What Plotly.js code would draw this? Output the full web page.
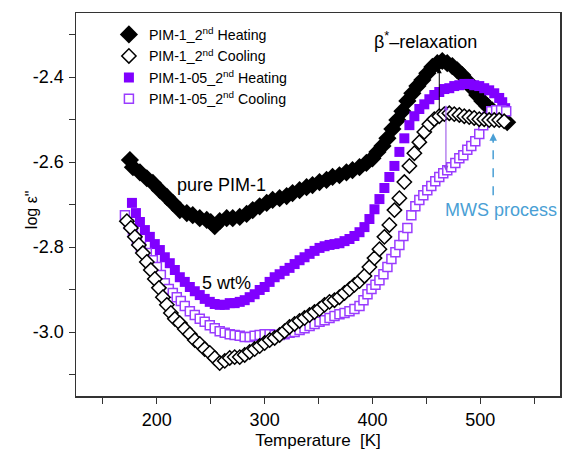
<!DOCTYPE html>
<html>
<head>
<meta charset="utf-8">
<script src="https://cdn.plot.ly/plotly-3.0.1.min.js"></script>
<style>html,body{margin:0;padding:0;background:#fff;}#chart{width:562px;height:450px;}</style>
</head>
<body>
<div id="chart"></div>
<script>
// PIM-1 2nd heating (filled black diamonds)
const tPim1Heat = [175.0,177.8,184.3,190.7,196.3,202.8,209.3,214.8,221.3,227.8,233.3,239.8,246.3,250.0,253.7,258.3,264.8,270.4,276.9,283.3,288.9,295.4,301.9,307.4,313.9,320.4,325.9,332.4,338.9,344.4,350.9,357.4,363.0,369.4,375.9,381.5,388.0,394.4,400.0,404.6,409.3,413.9,418.5,423.1,427.8,432.4,437.0,441.7,446.3,450.9,455.6,460.2,464.8,469.4,474.1,478.7,483.3,488.0,492.6,497.2,501.9,506.5,511.1,515.7,520.4,525.0];
const vPim1Heat = [-2.595,-2.612,-2.624,-2.638,-2.649,-2.666,-2.682,-2.696,-2.713,-2.72,-2.725,-2.732,-2.736,-2.741,-2.751,-2.739,-2.732,-2.732,-2.729,-2.722,-2.713,-2.704,-2.696,-2.689,-2.685,-2.68,-2.673,-2.666,-2.659,-2.654,-2.647,-2.642,-2.635,-2.631,-2.624,-2.619,-2.612,-2.602,-2.591,-2.576,-2.562,-2.544,-2.522,-2.501,-2.48,-2.456,-2.438,-2.421,-2.407,-2.391,-2.376,-2.367,-2.362,-2.367,-2.374,-2.384,-2.395,-2.409,-2.426,-2.442,-2.456,-2.468,-2.478,-2.487,-2.496,-2.506];

// PIM-1 2nd cooling (open black diamonds)
const tPim1Cool = [172.2,175.9,179.6,183.3,187.0,190.7,194.4,198.1,201.9,205.6,209.3,213.0,216.7,221.3,225.9,230.6,235.2,239.8,244.4,249.1,253.7,258.3,263.0,267.6,272.2,276.9,281.5,286.1,290.7,295.4,300.0,304.6,309.3,313.9,318.5,323.1,327.8,332.4,337.0,341.7,346.3,350.9,355.6,360.2,364.8,369.4,374.1,378.7,383.3,388.0,392.6,397.2,401.9,406.5,411.1,415.7,420.4,425.0,429.6,434.3,438.9,443.5,448.1,452.8,457.4,462.0,466.7,471.3,475.9,480.6,485.2,489.8,494.4,499.1,503.7,508.3,513.0,517.6,522.2];
const vPim1Cool = [-2.739,-2.755,-2.776,-2.795,-2.814,-2.835,-2.854,-2.875,-2.896,-2.918,-2.936,-2.955,-2.969,-2.979,-2.993,-3.005,-3.019,-3.028,-3.04,-3.049,-3.061,-3.073,-3.068,-3.061,-3.059,-3.059,-3.054,-3.047,-3.04,-3.033,-3.026,-3.019,-3.014,-3.007,-2.998,-2.988,-2.981,-2.974,-2.967,-2.96,-2.953,-2.946,-2.936,-2.929,-2.925,-2.918,-2.908,-2.899,-2.889,-2.88,-2.868,-2.847,-2.826,-2.805,-2.776,-2.748,-2.713,-2.685,-2.647,-2.609,-2.579,-2.553,-2.529,-2.511,-2.499,-2.492,-2.487,-2.485,-2.487,-2.489,-2.492,-2.494,-2.496,-2.499,-2.499,-2.501,-2.501,-2.501,-2.504];

// PIM-1-05 2nd heating (filled purple squares)
const tPim105Heat = [176.9,180.6,184.3,188.9,193.5,198.1,202.8,207.4,212.0,216.7,221.3,225.9,230.6,235.2,239.8,244.4,249.1,253.7,258.3,263.0,267.6,272.2,276.9,281.5,286.1,290.7,295.4,300.0,304.6,309.3,313.9,318.5,323.1,327.8,332.4,337.0,341.7,346.3,350.9,355.6,360.2,364.8,369.4,374.1,378.7,383.3,388.0,392.6,397.2,401.9,406.5,411.1,415.7,420.4,425.0,429.6,434.3,438.9,443.5,448.1,452.8,457.4,462.0,466.7,471.3,475.9,480.6,485.2,489.8,494.4,499.1,503.7,508.3,513.0,517.6,520.4,523.1];
const vPim105Heat = [-2.696,-2.72,-2.741,-2.76,-2.776,-2.793,-2.807,-2.824,-2.838,-2.854,-2.871,-2.882,-2.894,-2.904,-2.913,-2.922,-2.929,-2.934,-2.936,-2.936,-2.932,-2.932,-2.929,-2.925,-2.918,-2.911,-2.901,-2.894,-2.882,-2.871,-2.864,-2.856,-2.849,-2.84,-2.831,-2.824,-2.816,-2.809,-2.802,-2.798,-2.795,-2.793,-2.791,-2.786,-2.781,-2.774,-2.765,-2.753,-2.734,-2.711,-2.687,-2.661,-2.635,-2.609,-2.576,-2.544,-2.513,-2.492,-2.475,-2.464,-2.452,-2.442,-2.435,-2.428,-2.426,-2.421,-2.419,-2.416,-2.416,-2.419,-2.421,-2.426,-2.431,-2.438,-2.449,-2.459,-2.473];

// PIM-1-05 2nd cooling (open purple squares)
const tPim105Cool = [170.4,174.1,177.8,181.5,185.2,190.7,196.3,200.0,203.7,207.4,211.1,214.8,218.5,222.2,225.9,230.6,235.2,239.8,244.4,249.1,253.7,258.3,263.0,267.6,272.2,276.9,281.5,286.1,290.7,295.4,300.0,304.6,309.3,313.9,318.5,323.1,327.8,332.4,337.0,341.7,346.3,350.9,355.6,360.2,364.8,369.4,374.1,378.7,383.3,388.0,391.7,395.4,399.1,402.8,406.5,410.2,413.9,417.6,421.3,425.0,428.7,432.4,436.1,439.8,443.5,447.2,450.9,454.6,458.3,462.0,465.7,469.4,473.1,476.9,480.6,484.3,488.0,491.7,495.4,499.1,502.8,506.5,510.2,514.8,519.4,524.1];
const vPim105Cool = [-2.725,-2.746,-2.765,-2.784,-2.8,-2.814,-2.831,-2.847,-2.866,-2.885,-2.899,-2.908,-2.918,-2.927,-2.939,-2.951,-2.96,-2.969,-2.976,-2.984,-2.991,-2.998,-3.002,-3.005,-3.007,-3.009,-3.012,-3.012,-3.009,-3.007,-3.005,-3.005,-3.007,-3.007,-3.005,-3.002,-3.0,-2.995,-2.991,-2.986,-2.981,-2.976,-2.972,-2.967,-2.962,-2.958,-2.955,-2.951,-2.946,-2.939,-2.925,-2.911,-2.899,-2.889,-2.878,-2.864,-2.847,-2.828,-2.812,-2.795,-2.774,-2.755,-2.725,-2.704,-2.689,-2.678,-2.666,-2.656,-2.645,-2.635,-2.626,-2.619,-2.612,-2.602,-2.591,-2.584,-2.571,-2.562,-2.551,-2.534,-2.513,-2.494,-2.48,-2.478,-2.478,-2.48];

const legendNames = ["PIM-1_2<sup>nd</sup> Heating","PIM-1_2<sup>nd</sup> Cooling","PIM-1-05_2<sup>nd</sup> Heating","PIM-1-05_2<sup>nd</sup> Cooling"];

const FONT = "Liberation Sans, Arial, sans-serif";
const PURPLE = "#8000ff";
const PURPLE_OPEN = "#9a3cff";
const BLUE = "#4a9fd5";

const traces = [
  {x: tPim1Heat, y: vPim1Heat, name: legendNames[0], legendrank: 1, mode: "markers", type: "scatter",
   marker: {symbol: "diamond", size: 14, color: "#000", line: {width: 0}}},
  {x: tPim105Heat, y: vPim105Heat, name: legendNames[2], legendrank: 3, mode: "markers", type: "scatter",
   marker: {symbol: "square", size: 10, color: PURPLE, line: {width: 0}}},
  {x: tPim105Cool, y: vPim105Cool, name: legendNames[3], legendrank: 4, mode: "markers", type: "scatter",
   marker: {symbol: "square", size: 9, color: "#fff", line: {width: 1.5, color: PURPLE_OPEN}}},
  {x: tPim1Cool, y: vPim1Cool, name: legendNames[1], legendrank: 2, mode: "markers", type: "scatter",
   marker: {symbol: "diamond", size: 11, color: "#fff", line: {width: 1.5, color: "#000"}}}
];

const axisCommon = {
  showline: true, linecolor: "#333", linewidth: 1.5, mirror: true,
  ticks: "outside", ticklen: 6, tickwidth: 1, tickcolor: "#333",
  showgrid: false, zeroline: false,
  tickfont: {family: FONT, size: 18, color: "#000"}
};

const layout = {
  width: 562, height: 450,
  margin: {l: 76, r: 2, t: 13, b: 54},
  paper_bgcolor: "#fff", plot_bgcolor: "#fff",
  font: {family: FONT, color: "#000"},
  showlegend: true,
  legend: {x: 0.068, y: 0.985, xanchor: "left", yanchor: "top", bgcolor: "rgba(0,0,0,0)",
           font: {family: FONT, size: 14.2, color: "#000"}, traceorder: "normal"},
  xaxis: Object.assign({}, axisCommon, {
    range: [125, 574], tickvals: [200,300,400,500], ticktext: ["200","300","400","500"],
    ticklabelstandoff: 1,
    minor: {tickvals: [150,250,350,450,550], ticks: "outside", ticklen: 6, tickcolor: "#333"},
    title: {text: "Temperature  [K]", font: {family: FONT, size: 17, color: "#000"}, standoff: 7}
  }),
  yaxis: Object.assign({}, axisCommon, {
    range: [-3.1506, -2.249], tickvals: [-2.4,-2.6,-2.8,-3.0], ticktext: ["-2.4","-2.6","-2.8","-3.0"],
    ticklabelstandoff: 1,
    minor: {tickvals: [-2.3,-2.5,-2.7,-2.9,-3.1], ticks: "outside", ticklen: 6, tickcolor: "#333"}
  }),
  shapes: [
    {type: "line", xref: "x", yref: "y", x0: 512, x1: 512, y0: -2.678, y1: -2.548,
     line: {color: BLUE, width: 1.5, dash: "dash"}}
  ],
  annotations: [
    {x: -0.112, y: 0.486, xref: "paper", yref: "paper", text: "log ε\"", textangle: -90, showarrow: false,
     font: {family: FONT, size: 16, color: "#000"}},
    {x: 462, y: -2.379, ax: 462, ay: -2.482, xref: "x", yref: "y", axref: "x", ayref: "y",
     text: "", showarrow: true, arrowhead: 2, arrowsize: 1, arrowwidth: 1, arrowcolor: "#000"},
    {x: 468.2, y: -2.466, ax: 468.2, ay: -2.624, xref: "x", yref: "y", axref: "x", ayref: "y",
     text: "", showarrow: true, arrowhead: 2, startarrowhead: 2, arrowside: "end+start",
     arrowsize: 1, arrowwidth: 1, arrowcolor: "#9146e6"},
    {x: 512, y: -2.532, ax: 512, ay: -2.558, xref: "x", yref: "y", axref: "x", ayref: "y",
     text: "", showarrow: true, arrowhead: 2, arrowsize: 1, arrowwidth: 1.5, arrowcolor: BLUE},
    {x: 449, y: -2.313, xref: "x", yref: "y", text: "β<sup>*</sup>–relaxation", showarrow: false,
     font: {family: FONT, size: 18, color: "#000"}},
    {x: 260, y: -2.654, xref: "x", yref: "y", text: "pure PIM-1", showarrow: false,
     font: {family: FONT, size: 18, color: "#000"}},
    {x: 264.8, y: -2.885, xref: "x", yref: "y", text: "5 wt%", showarrow: false,
     font: {family: FONT, size: 18, color: "#000"}},
    {x: 0.998, y: -2.713, xref: "paper", yref: "y", xanchor: "right", text: "MWS process", showarrow: false,
     font: {family: FONT, size: 18, color: BLUE}}
  ]
};

Plotly.newPlot("chart", traces, layout, {displayModeBar: false, staticPlot: true});
</script>
</body>
</html>
